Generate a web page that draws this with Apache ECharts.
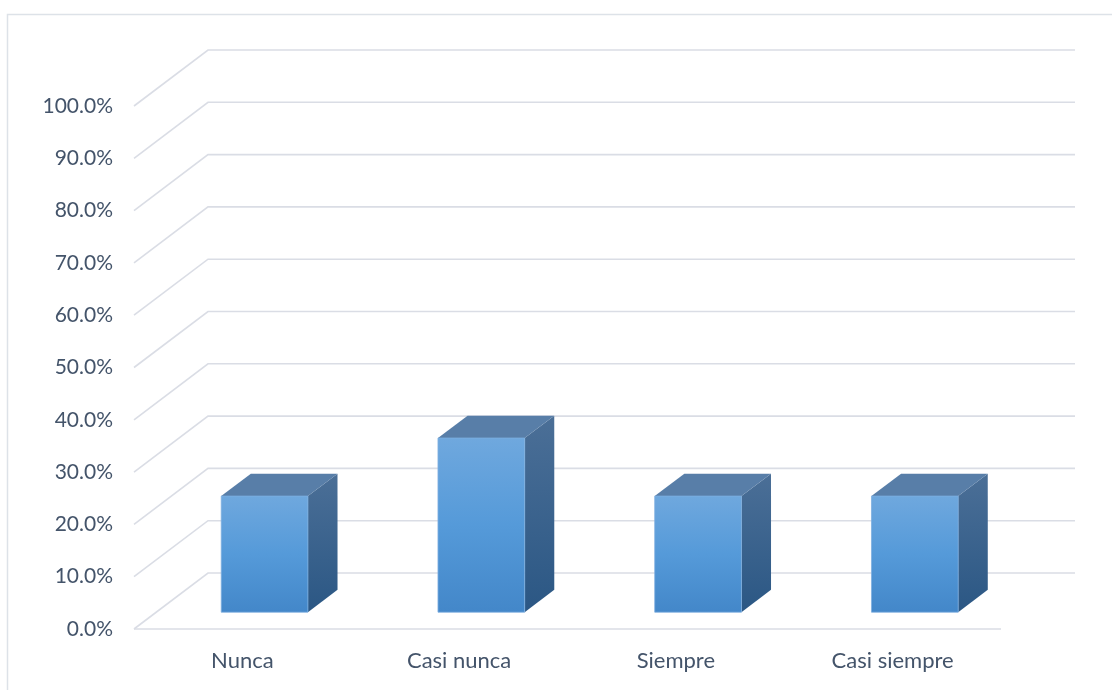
<!DOCTYPE html>
<html>
<head>
<meta charset="utf-8">
<script src="https://cdn.jsdelivr.net/npm/echarts@6/dist/echarts.min.js"></script>
<style>
  html, body { margin: 0; padding: 0; background: #ffffff; }
  #chart { width: 1112px; height: 690px; }
</style>
</head>
<body>
<div id="chart"></div>
<script>
// Survey answers (share of respondents, %)
const categories = ['Nunca', 'Casi nunca', 'Siempre', 'Casi siempre'];
const shares = [22.2, 33.3, 22.2, 22.2];
// Value-axis ticks (%)
const yTicks = [0, 10, 20, 30, 40, 50, 60, 70, 80, 90, 100];

// Oblique depth of the 3D floor / back wall (px)
const DEPTH_X = 74;
const DEPTH_Y = 56;
// Bars sit between these fractions of the depth
const BAR_FRONT = 0.3;
const BAR_BACK = 0.7;
const BAR_WIDTH = 0.4; // fraction of category slot

const GRID_COLOR = '#dadde5';
const TEXT_COLOR = '#44546a';
const FONT = 'Lato, "Open Sans", sans-serif';

const chart = echarts.init(document.getElementById('chart'), null, { renderer: 'canvas' });

function renderWalls(params, api) {
  const cs = params.coordSys;
  const y = api.coord([0, api.value(1)])[1];
  const x0 = cs.x, x1 = cs.x + cs.width;
  const children = [{
    type: 'polyline',
    shape: { points: [[x0, y], [x0 + DEPTH_X, y - DEPTH_Y], [x1 + DEPTH_X, y - DEPTH_Y]] },
    style: { stroke: GRID_COLOR, lineWidth: 1.6, fill: null }
  }];
  if (api.value(1) === 0) {
    children.push({
      type: 'line',
      shape: { x1: x0, y1: y, x2: x1, y2: y },
      style: { stroke: GRID_COLOR, lineWidth: 1.6 }
    });
  }
  return { type: 'group', children: children };
}

function renderBox(params, api) {
  const idx = api.value(0);
  const v = api.value(1);
  const top = api.coord([idx, v]);
  const base = api.coord([idx, 0]);
  const slot = api.size([1, 0])[0];
  const w = slot * BAR_WIDTH;
  const fl = base[0] - w / 2 + DEPTH_X * BAR_FRONT;
  const fr = fl + w;
  const ft = top[1] - DEPTH_Y * BAR_FRONT;
  const fb = base[1] - DEPTH_Y * BAR_FRONT;
  const bdx = DEPTH_X * (BAR_BACK - BAR_FRONT);
  const bdy = DEPTH_Y * (BAR_BACK - BAR_FRONT);
  return {
    type: 'group',
    children: [
      {
        type: 'polygon',
        shape: { points: [[fr, ft], [fr + bdx, ft - bdy], [fr + bdx, fb - bdy], [fr, fb]] },
        style: {
          fill: new echarts.graphic.LinearGradient(0, 0, 0, 1, [
            { offset: 0, color: '#4b6f97' },
            { offset: 1, color: '#2b5784' }
          ])
        }
      },
      {
        type: 'polygon',
        shape: { points: [[fl, ft], [fr, ft], [fr + bdx, ft - bdy], [fl + bdx, ft - bdy]] },
        style: { fill: '#587ea8' }
      },
      {
        type: 'rect',
        shape: { x: fl, y: ft, width: w, height: fb - ft },
        style: {
          fill: new echarts.graphic.LinearGradient(0, 0, 0, 1, [
            { offset: 0, color: '#6fa8de' },
            { offset: 0.5, color: '#559ad9' },
            { offset: 1, color: '#4387c9' }
          ]),
          stroke: '#7eaee0',
          lineWidth: 0.8
        }
      }
    ]
  };
}

const option = {
  backgroundColor: '#ffffff',
  animation: false,
  graphic: [{
    type: 'rect',
    shape: { x: 7.5, y: 14.5, width: 1120, height: 700 },
    style: { fill: null, stroke: '#dde2e8', lineWidth: 1.5 },
    silent: true,
    z: -10
  }],
  grid: { left: 134, top: 106, width: 867, height: 523 },
  xAxis: {
    type: 'category',
    data: categories,
    axisLine: { show: false },
    axisTick: { show: false },
    axisLabel: { color: TEXT_COLOR, fontFamily: FONT, fontSize: 22, margin: 21 },
    splitLine: { show: false }
  },
  yAxis: {
    type: 'value',
    min: 0,
    max: 100,
    interval: 10,
    axisLine: { show: false },
    axisTick: { show: false },
    splitLine: { show: false },
    axisLabel: {
      color: TEXT_COLOR, fontFamily: FONT, fontSize: 21, margin: 21,
      verticalAlign: 'middle', padding: [3, 0, 0, 0],
      formatter: function (v) { return v.toFixed(1) + '%'; }
    }
  },
  series: [
    {
      type: 'custom',
      name: 'walls',
      renderItem: renderWalls,
      data: yTicks.map(function (t) { return [0, t]; }),
      encode: { x: 0, y: 1 },
      silent: true,
      z: 1
    },
    {
      type: 'custom',
      name: 'Porcentaje',
      renderItem: renderBox,
      data: shares.map(function (s, i) { return [i, s]; }),
      encode: { x: 0, y: 1 },
      z: 2
    }
  ]
};

chart.setOption(option);
</script>
</body>
</html>
